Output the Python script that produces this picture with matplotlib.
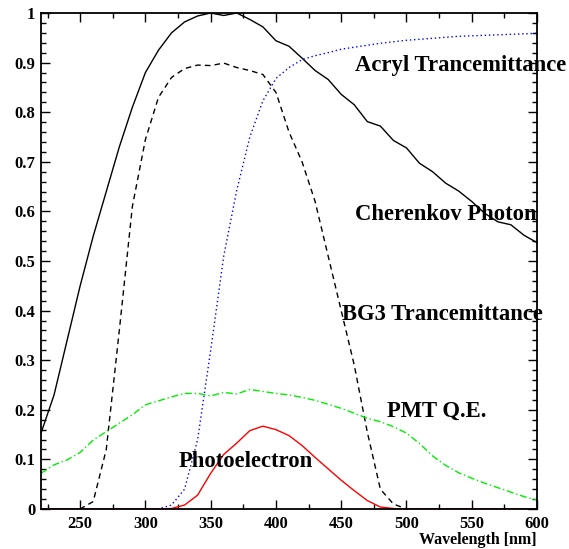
import numpy as np
import matplotlib
matplotlib.use("Agg")
import matplotlib.pyplot as plt

# wavelength grid, 10 nm steps
wavelength = np.arange(220, 601, 10)

# curves
cherenkov = [0.153, 0.23, 0.34, 0.45, 0.55, 0.64, 0.73, 0.81, 0.88, 0.925,
             0.96, 0.982, 0.994, 1.0, 0.995, 1.0, 0.987, 0.972, 0.944, 0.933,
             0.909, 0.884, 0.866, 0.836, 0.815, 0.781, 0.772, 0.743, 0.728, 0.697,
             0.68, 0.657, 0.641, 0.62, 0.596, 0.579, 0.573, 0.552, 0.537]
bg3 = [0, 0, 0, 0, 0.015, 0.12, 0.36, 0.61, 0.745, 0.83,
       0.87, 0.888, 0.895, 0.894, 0.899, 0.89, 0.884, 0.876, 0.84, 0.76,
       0.70, 0.62, 0.51, 0.40, 0.29, 0.155, 0.04, 0.01, 0, 0,
       0, 0, 0, 0, 0, 0, 0, 0, 0]
acryl = [0, 0, 0, 0, 0, 0, 0, 0, 0, 0,
         0.008, 0.04, 0.14, 0.32, 0.51, 0.643, 0.75, 0.823, 0.868, 0.89,
         0.906, 0.914, 0.92, 0.927, 0.931, 0.935, 0.939, 0.942, 0.945, 0.947,
         0.949, 0.951, 0.953, 0.954, 0.955, 0.956, 0.957, 0.958, 0.959]
pmt_qe = [0.072, 0.089, 0.099, 0.114, 0.139, 0.156, 0.173, 0.19, 0.21, 0.218,
          0.226, 0.233, 0.233, 0.228, 0.235, 0.232, 0.241, 0.237, 0.233, 0.23,
          0.225, 0.219, 0.211, 0.203, 0.193, 0.183, 0.176, 0.166, 0.153, 0.132,
          0.107, 0.088, 0.073, 0.062, 0.052, 0.043, 0.034, 0.025, 0.018]
photoelectron = [0, 0, 0, 0, 0, 0, 0, 0, 0, 0,
                 0.001, 0.008, 0.028, 0.072, 0.11, 0.133, 0.158, 0.167, 0.16, 0.148,
                 0.128, 0.104, 0.081, 0.058, 0.037, 0.017, 0.004, 0.001, 0, 0,
                 0, 0, 0, 0, 0, 0, 0, 0, 0]

xticks = [250, 300, 350, 400, 450, 500, 550, 600]
yticks = [0, 0.1, 0.2, 0.3, 0.4, 0.5, 0.6, 0.7, 0.8, 0.9, 1.0]
ytick_labels = ['0', '0.1', '0.2', '0.3', '0.4', '0.5', '0.6', '0.7', '0.8', '0.9', '1']

# labels: text, x, y (baseline)
labels = [("Acryl Trancemittance", 460.6, 0.883),
          ("Cherenkov Photon", 460.6, 0.583),
          ("BG3 Trancemittance", 450.4, 0.382),
          ("PMT Q.E.", 484.9, 0.185),
          ("Photoelectron", 325.2, 0.084)]

plt.rcParams['font.family'] = ['Liberation Serif', 'DejaVu Serif']
plt.rcParams['font.weight'] = 'bold'

fig = plt.figure(figsize=(5.69, 5.49), dpi=100)
ax = fig.add_axes([41/569, 1-509/549, 496/569, 496/549])

ax.plot(wavelength, cherenkov, color='black', lw=1.0, ls='-')
ax.plot(wavelength, bg3, color='black', lw=1.0, ls=(0, (4, 3)))
ax.plot(wavelength, acryl, color='#0000ff', lw=1.0, ls=(0, (1, 2)))
ax.plot(wavelength, pmt_qe, color='#00ee00', lw=1.0, ls=(0, (5, 2, 1, 2)))
ax.plot(wavelength, photoelectron, color='#ff0000', lw=1.0, ls='-')

for txt, x, y in labels:
    ax.text(x, y, txt, fontsize=16.3, fontweight='bold', ha='left', va='baseline')

ax.set_xlim(220, 600)
ax.set_ylim(0, 1)
ax.set_xticks(xticks)
ax.set_xticks(np.arange(225, 600, 50), minor=True)
ax.set_yticks(yticks)
ax.set_yticklabels(ytick_labels)
ax.set_yticks(np.arange(0, 1.001, 0.02), minor=True)

ax.tick_params(which='both', direction='in', top=True, right=True,
               labelsize=12, width=1.0, color='black')
ax.tick_params(which='major', length=6.5)
ax.tick_params(which='minor', length=3.5)
ax.tick_params(axis='x', pad=5)
ax.tick_params(axis='y', pad=4)
for s in ax.spines.values():
    s.set_linewidth(1.3)

ax.set_xlabel('Wavelength [nm]', loc='right', fontsize=11.5, fontweight='bold', labelpad=0)

fig.savefig('out.png', dpi=100)
